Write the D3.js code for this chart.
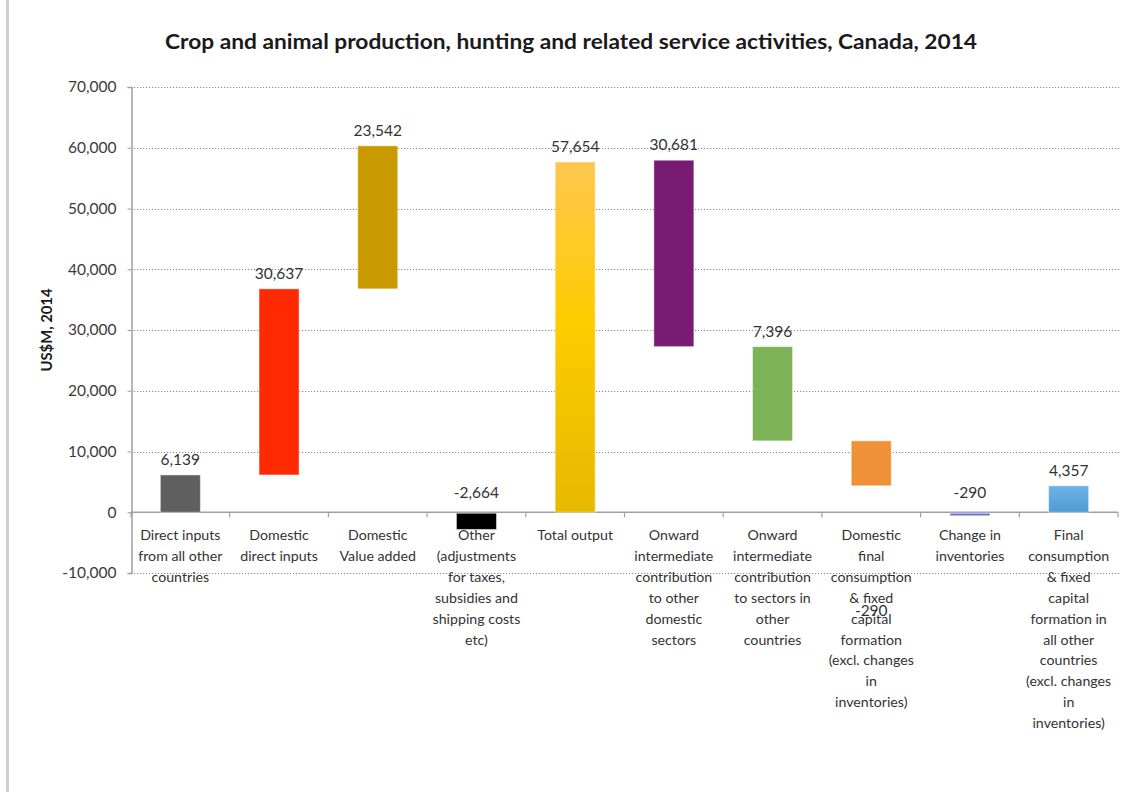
<!DOCTYPE html>
<html>
<head>
<meta charset="utf-8">
<script src="https://cdn.jsdelivr.net/npm/d3@7"></script>
<style>
  html, body { margin: 0; padding: 0; background: #fff; }
  svg { display: block; font-family: Lato, "Open Sans", sans-serif; }
</style>
</head>
<body>
<svg id="chart" width="1129" height="792"></svg>
<script>
// Waterfall of output flows (US$M, 2014)
const categoryLines = [
  ["Direct inputs", "from all other", "countries"],
  ["Domestic", "direct inputs"],
  ["Domestic", "Value added"],
  ["Other", "(adjustments", "for taxes,", "subsidies and", "shipping costs", "etc)"],
  ["Total output"],
  ["Onward", "intermediate", "contribution", "to other", "domestic", "sectors"],
  ["Onward", "intermediate", "contribution", "to sectors in", "other", "countries"],
  ["Domestic", "final", "consumption", "& fixed", "capital", "formation", "(excl. changes", "in", "inventories)"],
  ["Change in", "inventories"],
  ["Final", "consumption", "& fixed", "capital", "formation in", "all other", "countries", "(excl. changes", "in", "inventories)"]
];
// where each floating bar starts, and its signed size
const barBase  = [0, 6139, 36776, 0, 0, 27263, 11753, 4357, 0, 0];
const barValue = [6139, 30637, 23542, -2664, 57654, 30681, 15510, 7396, -290, 4357];
// data label text shown on each column
const valueLabels = ["6,139", "30,637", "23,542", "-2,664", "57,654", "30,681", "7,396", "-290", "-290", "4,357"];
// label anchor (data units) where a label sits away from its bar; null = above bar
const labelAnchor = [null, null, null, null, null, null, null, -16300, null, null];
const barColors = ["#5f5f5f", "#ff2a00", "#c99a00", "#000000", "url(#gradTotal)", "#771b73",
                   "#7db356", "#f0913a", "#6c6ce6", "url(#gradBlue)"];
const yTicks = [-10000, 0, 10000, 20000, 30000, 40000, 50000, 60000, 70000];

const svg = d3.select("#chart");

// gradients
const defs = svg.append("defs");
const g1 = defs.append("linearGradient").attr("id", "gradTotal").attr("x1", 0).attr("y1", 0).attr("x2", 0).attr("y2", 1);
g1.append("stop").attr("offset", "0%").attr("stop-color", "#fec650");
g1.append("stop").attr("offset", "45%").attr("stop-color", "#ffcc00");
g1.append("stop").attr("offset", "100%").attr("stop-color", "#e6b800");
const g2 = defs.append("linearGradient").attr("id", "gradBlue").attr("x1", 0).attr("y1", 0).attr("x2", 0).attr("y2", 1);
g2.append("stop").attr("offset", "0%").attr("stop-color", "#6fb3e6");
g2.append("stop").attr("offset", "100%").attr("stop-color", "#4f9ad5");

// left frame line
svg.append("rect").attr("x", 6).attr("y", 0).attr("width", 3).attr("height", 792).attr("fill", "#cfcfcf");

const plotLeft = 131, plotRight = 1118;
const x = d3.scaleBand().domain(d3.range(categoryLines.length)).range([plotLeft, plotRight]).paddingInner(0).paddingOuter(0);
const y = d3.scaleLinear().domain([-10000, 70000]).range([573, 87]);
const barW = 40;
const fmt = d => d3.format(",")(d).replace("\u2212", "-");

// title
svg.append("text").attr("x", 571).attr("y", 49).attr("text-anchor", "middle")
  .attr("font-size", 21).attr("font-weight", "bold").attr("fill", "#1a1a1a")
  .attr("textLength", 812).attr("lengthAdjust", "spacingAndGlyphs")
  .text("Crop and animal production, hunting and related service activities, Canada, 2014");

// gridlines
svg.append("g").selectAll("line").data(yTicks.filter(d => d !== 0)).join("line")
  .attr("x1", plotLeft).attr("x2", plotRight + 2)
  .attr("y1", d => Math.round(y(d)) + 0.5).attr("y2", d => Math.round(y(d)) + 0.5)
  .attr("stroke", "#8a8a8a").attr("stroke-width", 1).attr("stroke-dasharray", "1.2,1.8");

// y axis
const yAxis = d3.axisLeft(y).tickValues(yTicks).tickSize(4).tickPadding(11).tickFormat(fmt);
const ya = svg.append("g").attr("transform", `translate(${plotLeft + 0.5},0)`).call(yAxis);
ya.select(".domain").attr("stroke", "#a0a0a0").attr("stroke-width", 1.5);
ya.selectAll(".tick line").attr("stroke", "#a0a0a0");
ya.selectAll(".tick text").attr("font-size", 15.5).attr("fill", "#3a3a3a").attr("font-family", "Lato, sans-serif");

svg.append("text").attr("transform", "translate(52,330) rotate(-90)").attr("text-anchor", "middle")
  .attr("font-size", 14.8).attr("font-weight", "bold").attr("fill", "#1a1a1a").text("US$M, 2014");

// zero axis line
svg.append("line").attr("x1", plotLeft).attr("x2", plotRight)
  .attr("y1", y(0)).attr("y2", y(0)).attr("stroke", "#a0a0a0").attr("stroke-width", 1.5);
svg.append("g").selectAll("line").data(d3.range(categoryLines.length + 1)).join("line")
  .attr("x1", i => plotLeft + i * x.bandwidth()).attr("x2", i => plotLeft + i * x.bandwidth())
  .attr("y1", y(0)).attr("y2", y(0) + 5).attr("stroke", "#a0a0a0").attr("stroke-width", 1.2);

// bars
svg.append("g").selectAll("rect").data(barValue).join("rect")
  .attr("x", (d, i) => x(i) + x.bandwidth() / 2 - barW / 2)
  .attr("width", barW)
  .attr("y", (d, i) => y(Math.max(barBase[i], barBase[i] + d)) + (d < 0 ? 1 : 0))
  .attr("height", (d, i) => Math.max(2.5, Math.abs(y(barBase[i]) - y(barBase[i] + d))))
  .attr("fill", (d, i) => barColors[i])
  .attr("stroke", "rgba(255,255,255,0.45)").attr("stroke-width", 1);

// value labels
svg.append("g").selectAll("text").data(valueLabels).join("text")
  .attr("x", (d, i) => x(i) + x.bandwidth() / 2)
  .attr("y", (d, i) => {
    if (labelAnchor[i] !== null) return y(labelAnchor[i]) + 5;
    const top = Math.max(barBase[i], barBase[i] + barValue[i]);
    return barValue[i] < 0 ? y(0) - 14 : y(top) - 10;
  })
  .attr("text-anchor", "middle").attr("font-size", 15.5).attr("fill", "#333")
  .text(d => d);

// category labels
const cat = svg.append("g").selectAll("text").data(categoryLines).join("text")
  .attr("text-anchor", "middle").attr("font-size", 14.2).attr("fill", "#333");
cat.each(function (lines, i) {
  d3.select(this).selectAll("tspan").data(lines).join("tspan")
    .attr("x", x(i) + x.bandwidth() / 2)
    .attr("y", (l, j) => 540 + j * 20.9)
    .text(l => l);
});
</script>
</body>
</html>
